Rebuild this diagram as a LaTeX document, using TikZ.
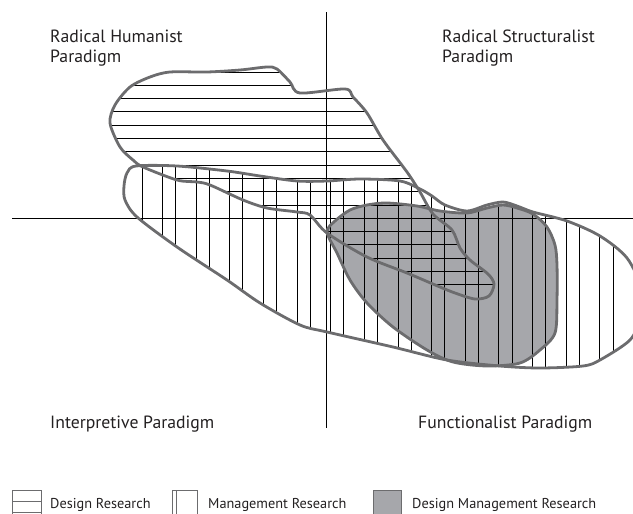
\documentclass[tikz,border=0pt]{standalone}
\usepackage{fontspec}
\setmainfont{PT Sans}
\definecolor{edgegray}{RGB}{108,108,110}
\definecolor{fillgray}{RGB}{166,167,171}
\definecolor{inkgray}{RGB}{35,32,33}

% Outline of the design research region
\def\designregion{plot[smooth cycle, tension=0.5] coordinates {
  (110,123) (115,105) (130,87) (150,77) (170,72) (207,72) (240,70) (267,67)
  (277,69) (290,82) (300,93) (345,89) (353,97) (367,113) (383,140) (407,172)
  (420,192) (433,214) (452,230) (460,248) (470,260) (488,274) (494,284)
  (489,296) (475,299) (455,293) (440,287) (407,273) (367,257) (327,233)
  (310,215) (297,212) (267,208) (243,200) (210,185) (197,182) (177,180)
  (143,167) (133,160) (120,147)}}

% Outline of the management research region
\def\mgmtregion{plot[smooth cycle, tension=0.5] coordinates {
  (124,186) (127,173) (136,166) (177,166) (227,171) (260,176) (297,181)
  (327,181) (360,179) (400,181) (420,189) (432,196) (445,205) (467,211)
  (487,205) (503,202) (517,206) (533,212) (567,221) (600,236) (627,258)
  (642,290) (640,318) (630,340) (600,360) (583,366) (540,368) (500,366)
  (447,360) (393,347) (327,332) (300,325) (260,303) (227,280) (177,247)
  (137,217) (125,200)}}

% Outline of the design management research region
\def\dmregion{plot[smooth cycle, tension=0.5] coordinates {
  (327,232) (335,221) (350,210) (367,205) (387,203) (417,206) (440,211)
  (467,213) (487,208) (503,205) (517,208) (533,214) (547,227) (555,245)
  (557,265) (557,300) (555,333) (540,350) (520,363) (487,366) (453,362)
  (427,350) (393,327) (367,303) (350,280) (337,253)}}

\begin{document}
\begin{tikzpicture}[x=1pt, y=-1pt,
  outline/.style={draw=edgegray, line width=2.8pt, line join=round},
  hatchline/.style={draw=black, line width=0.9pt},
  axisline/.style={draw=black, line width=1.3pt},
  title/.style={font=\fontsize{17.7}{20}\selectfont, text=inkgray, inner sep=0pt, anchor=base west},
  keytext/.style={font=\fontsize{14.3}{17}\selectfont, text=inkgray, inner sep=0pt, anchor=base west},
  keybox/.style={draw=edgegray, line width=0.9pt}]

\useasboundingbox (0,0) rectangle (633,514);
\clip (0,0) rectangle (633,514);

% shaded design management area
\fill[fillgray] \dmregion;

% horizontal hatching of design research
\begin{scope}
  \clip \designregion;
  \foreach \k in {0,...,16}
    \draw[hatchline] (90,72+13.3*\k) -- (510,72+13.3*\k);
\end{scope}

% vertical hatching of management research
\begin{scope}
  \clip \mgmtregion;
  \foreach \k in {0,...,14} {
    \draw[hatchline] (142+33.64*\k,150) -- (142+33.64*\k,380);
    \draw[hatchline] (162.5+33.64*\k,150) -- (162.5+33.64*\k,380);
  }
\end{scope}

% paradigm axes
\coordinate (vtop) at (326.5,12);
\coordinate (vbot) at (326.5,428);
\coordinate (hleft) at (12,218.5);
\coordinate (hright) at (640,218.5);
\draw[axisline] (vtop) -- (vbot);
\draw[axisline] (hleft) -- (hright);

% region outlines
\draw[outline] \designregion;
\draw[outline] \mgmtregion;
\draw[outline] \dmregion;

% quadrant titles
\node[title] (rh1) at (50,42) {Radical Humanist};
\node[title] (rh2) at (50,63) {Paradigm};
\node[title] (rs1) at (442,42) {Radical Structuralist};
\node[title] (rs2) at (442,63) {Paradigm};
\node[title] (ip) at (50,428) {Interpretive Paradigm};
\node[title] (fp) at (418,428) {Functionalist Paradigm};

% key
\draw[keybox] (12,490) rectangle (41,524);
\draw[keybox] (12,501) -- (41,501);
\draw[keybox] (12,512.5) -- (41,512.5);
\node[keytext] (kd) at (50,508) {Design Research};

\draw[keybox] (172,490) rectangle (197,524);
\draw[keybox] (176,490) -- (176,524);
\node[keytext] (km) at (208,508) {Management Research};

\draw[keybox, fill=fillgray] (373,490) rectangle (401,524);
\node[keytext] (kdm) at (412,508) {Design Management Research};
\end{tikzpicture}
\end{document}
